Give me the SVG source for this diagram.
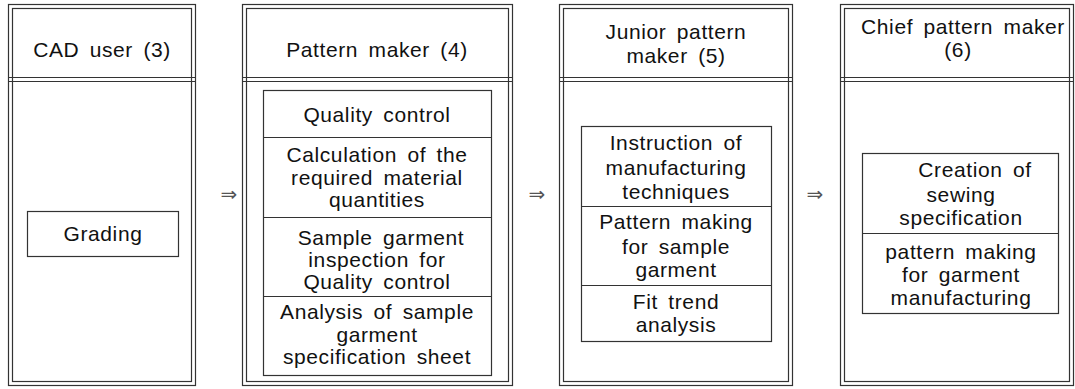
<svg xmlns="http://www.w3.org/2000/svg" width="1075" height="389" viewBox="0 0 1075 389">
<style>
.o{fill:none;stroke:#333;stroke-width:1.2}
.b{fill:#fff;stroke:#333;stroke-width:1.2}
.d{stroke:#333;stroke-width:1.2}
text{font-family:"Liberation Sans",Arial,sans-serif;font-size:21px;fill:#111;text-anchor:middle;letter-spacing:0.6px;word-spacing:4px}
.ar{font-family:"DejaVu Sans",sans-serif;font-size:20px;fill:#555;letter-spacing:0;word-spacing:0}
</style>
<rect width="1075" height="389" fill="#fff"/>
<g id="col1">
<rect class="o" x="8.5" y="4.5" width="187" height="381"/>
<rect class="o" x="12.5" y="8.5" width="179" height="373"/>
<line class="d" x1="8" y1="77.5" x2="196" y2="77.5"/>
<line class="d" x1="8" y1="81.5" x2="196" y2="81.5"/>
<text x="102" y="57">CAD user (3)</text>
</g>
<g id="grading">
<rect class="b" x="27.5" y="211.5" width="151" height="45"/>
<text x="103" y="241">Grading</text>
</g>
<g id="col2">
<rect class="o" x="242.5" y="4.5" width="270" height="381"/>
<rect class="o" x="246.5" y="8.5" width="262" height="373"/>
<line class="d" x1="242" y1="77.5" x2="513" y2="77.5"/>
<line class="d" x1="242" y1="81.5" x2="513" y2="81.5"/>
<text x="377" y="57">Pattern maker (4)</text>
</g>
<g id="col2tasks">
<rect class="b" x="263.5" y="90.5" width="228" height="285"/>
<line class="d" x1="263" y1="137.5" x2="492" y2="137.5"/>
<line class="d" x1="263" y1="217.5" x2="492" y2="217.5"/>
<line class="d" x1="263" y1="296.5" x2="492" y2="296.5"/>
<text x="377" y="122">Quality control</text>
<text x="377" y="162">Calculation of the</text>
<text x="377" y="185">required material</text>
<text x="377" y="207">quantities</text>
<text x="381" y="245">Sample garment</text>
<text x="377" y="267">inspection for</text>
<text x="377" y="289">Quality control</text>
<text x="377" y="319">Analysis of sample</text>
<text x="377" y="342">garment</text>
<text x="377" y="364">specification sheet</text>
</g>
<g id="col3">
<rect class="o" x="559.5" y="4.5" width="233" height="381"/>
<rect class="o" x="563.5" y="8.5" width="225" height="373"/>
<line class="d" x1="559" y1="77.5" x2="793" y2="77.5"/>
<line class="d" x1="559" y1="81.5" x2="793" y2="81.5"/>
<text x="676" y="39">Junior pattern</text>
<text x="676" y="63">maker (5)</text>
</g>
<g id="col3tasks">
<rect class="b" x="581.5" y="126.5" width="190" height="215"/>
<line class="d" x1="581" y1="206.5" x2="772" y2="206.5"/>
<line class="d" x1="581" y1="285.5" x2="772" y2="285.5"/>
<text x="676" y="150">Instruction of</text>
<text x="676" y="175">manufacturing</text>
<text x="676" y="199">techniques</text>
<text x="676" y="229">Pattern making</text>
<text x="676" y="254">for sample</text>
<text x="676" y="277">garment</text>
<text x="676" y="309">Fit trend</text>
<text x="676" y="332">analysis</text>
</g>
<g id="col4">
<rect class="o" x="840.5" y="4.5" width="233" height="381"/>
<rect class="o" x="844.5" y="8.5" width="225" height="373"/>
<line class="d" x1="840" y1="77.5" x2="1074" y2="77.5"/>
<line class="d" x1="840" y1="81.5" x2="1074" y2="81.5"/>
<text x="963" y="34">Chief pattern maker</text>
<text x="958" y="57">(6)</text>
</g>
<g id="col4tasks">
<rect class="b" x="862.5" y="153.5" width="196" height="160"/>
<line class="d" x1="862" y1="233.5" x2="1059" y2="233.5"/>
<text x="975" y="177">Creation of</text>
<text x="961" y="202">sewing</text>
<text x="961" y="225">specification</text>
<text x="961" y="259">pattern making</text>
<text x="961" y="282">for garment</text>
<text x="961" y="305">manufacturing</text>
</g>
<g id="connectors">
<text class="ar" x="229" y="201">⇒</text>
<text class="ar" x="537" y="201">⇒</text>
<text class="ar" x="815" y="201">⇒</text>
</g>
</svg>
